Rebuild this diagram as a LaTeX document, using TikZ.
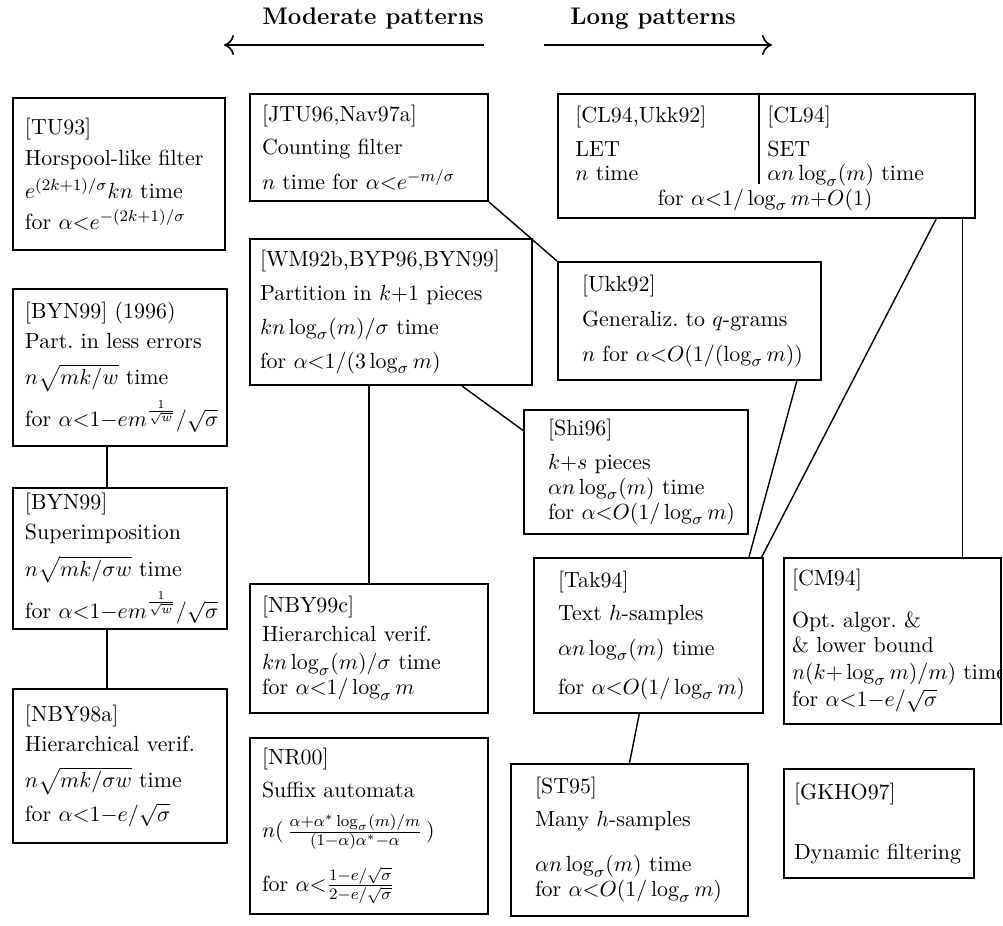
\documentclass[tikz,border=0pt,11pt]{standalone}
\usepackage{amsmath}
\usepackage{amssymb}
\usetikzlibrary{arrows.meta}
\usetikzlibrary{calc}
\tikzset{refbox/.style = {draw, line width = 1pt, anchor = north west, align = left,
                          inner xsep = 6pt, inner ysep = 0pt,
                          font = \fontsize{10.95}{12}\selectfont}}
\tikzset{reftext/.style = {align = left, inner sep = 0pt, font = \fontsize{10.95}{12}\selectfont}}
\tikzset{link/.style = {line width = 0.7pt}}
\tikzset{hdr/.style = {font = \large\bfseries}}
\tikzset{hdrarrow/.style = {-{Computer Modern Rightarrow[length=5pt, width=10pt]}, line width = 0.8pt}}

\begin{document}
\begin{tikzpicture}[x=0.5pt, y=-0.5pt]
      \useasboundingbox (0,0) rectangle (1003,926);

      % header
      \node [hdr] (moderate) at (373,19) {Moderate patterns};
      \node [hdr] (long) at (653,19) {Long patterns};
      \coordinate (modhead) at (224,45);
      \coordinate (modtail) at (484,45);
      \coordinate (longtail) at (544,45);
      \coordinate (longhead) at (772,45);
      \draw [hdrarrow] (modtail) -- (modhead);
      \draw [hdrarrow] (longtail) -- (longhead);

      % left column
      \node [refbox, text width = 94pt, minimum height = 76pt] (tu) at (12,97)
        {[TU93]\\[3.5pt] Horspool-like~filter\\[3.5pt] $e^{(2k+1)/\sigma}kn$~time\\[3.5pt]
         for~$\alpha{<}e^{-(2k+1)/\sigma}$};
      \node [refbox, text width = 95pt, minimum height = 78.5pt] (byna) at (12,288)
        {[BYN99] (1996)\\[3pt] Part.\ in~less~errors\\[6pt] $n\sqrt{mk/w}$~time\\[3.5pt]
         for~$\alpha{<}1{-}em^{\frac{1}{\sqrt{w}}}/\sqrt{\sigma}$};
      \node [refbox, text width = 95pt, minimum height = 70.5pt] (bynb) at (12,487)
        {[BYN99]\\[3pt] Superimposition\\[5pt] $n\sqrt{mk/\sigma w}$~time\\[3.5pt]
         for~$\alpha{<}1{-}em^{\frac{1}{\sqrt{w}}}/\sqrt{\sigma}$};
      \node [refbox, text width = 95pt, minimum height = 77pt] (nbya) at (12,688)
        {[NBY98a]\\[3pt] Hierarchical~verif.\\[6pt] $n\sqrt{mk/\sigma w}$~time\\[3.5pt]
         for~$\alpha{<}1{-}e/\sqrt{\sigma}$};

      % middle column
      \node [refbox, text width = 107pt, minimum height = 53.5pt] (jtu) at (249,93)
        {[JTU96,Nav97a]\\[4.5pt] Counting~filter\\[4.5pt] $n$~time~for~$\alpha{<}e^{-m/\sigma}$};
      \node [refbox, inner xsep = 5pt, text width = 131pt, minimum height = 73pt] (wm) at (249,238)
        {[WM92b,BYP96,BYN99]\\[5pt] Partition~in~$k{+}1$~pieces\\[5pt]
         $kn\log_\sigma(m)/\sigma$~time\\[5pt] for~$\alpha{<}1/(3\log_\sigma m)$};
      \node [refbox, text width = 107pt, minimum height = 64.5pt] (nbyc) at (249,583)
        {[NBY99c]\\[2.5pt] Hierarchical~verif.\\[2pt] $kn\log_\sigma(m)/\sigma$~time\\[0.5pt]
         for~$\alpha{<}1/\log_\sigma m$};
      \node [refbox, text width = 107pt, minimum height = 88pt] (nr) at (249,737)
        {[NR00]\\[4.5pt] Suffix~automata\\[8pt]
         $n(\,\frac{\alpha+\alpha^*\log_\sigma(m)/m}{(1-\alpha)\alpha^*-\alpha}\,)$\\[8pt]
         for~$\alpha{<}\frac{1-e/\sqrt{\sigma}}{2-e/\sqrt{\sigma}}$};

      % right part
      \node [refbox, minimum width = 208.5pt, minimum height = 62pt] (cl) at (557,93) {};
      \node [reftext, anchor = north west] (clet) at (575,106)
        {[CL94,Ukk92]\\[5pt] LET\\[0pt] $n$~time};
      \node [reftext, anchor = north west] (clset) at (767,106)
        {[CL94]\\[5pt] SET\\[0pt] $\alpha n\log_\sigma(m)$~time};
      \node [reftext, anchor = base] (clfor) at (765,205) {for~$\alpha{<}1/\log_\sigma m{+}O(1)$};
      \coordinate (cldiv) at (759,184);
      \draw [line width = 1pt] (cldiv |- cl.north) -- (cldiv);

      \node [refbox, inner xsep = 12pt, text width = 107.5pt, minimum height = 59pt] (ukk) at (557,261)
        {[Ukk92]\\[5.5pt] Generaliz.~to~$q$-grams\\[5.5pt] $n$~for~$\alpha{<}O(1/(\log_\sigma m))$};
      \node [refbox, inner xsep = 12pt, text width = 88pt, minimum height = 62pt] (shi) at (523,409)
        {[Shi96]\\[5pt] $k{+}s$~pieces\\[0.5pt] $\alpha n\log_\sigma(m)$~time\\[0.5pt]
         for~$\alpha{<}O(1/\log_\sigma m)$};
      \node [refbox, inner xsep = 12pt, text width = 90.5pt, minimum height = 77.5pt] (tak) at (533,557)
        {[Tak94]\\[4.5pt] Text~$h$-samples\\[5.5pt] $\alpha n\log_\sigma(m)$~time\\[7.5pt]
         for~$\alpha{<}O(1/\log_\sigma m)$};
      \node [refbox, inner xsep = 4pt, text width = 100.5pt, minimum height = 83pt] (cm) at (783,557)
        {[CM94]\\[9pt] Opt.~algor.~\&\\[0.5pt] \&~lower~bound\\[1.5pt]
         $n(k{+}\log_\sigma m)/m)$~time\\[1.5pt] for~$\alpha{<}1{-}e/\sqrt{\sigma}$};
      \node [refbox, inner xsep = 12pt, text width = 94.5pt, minimum height = 76pt] (st) at (510,763)
        {[ST95]\\[4.5pt] Many~$h$-samples\\[10.5pt] $\alpha n\log_\sigma(m)$~time\\[0.5pt]
         for~$\alpha{<}O(1/\log_\sigma m)$};
      \node [refbox, inner xsep = 5pt, text width = 85pt, minimum height = 54.5pt] (gk) at (783,768)
        {[GKHO97]\\[18pt] Dynamic~filtering};

      % links
      \draw [link] ($(byna.south west)!0.44!(byna.south east)$) -- ($(bynb.north west)!0.44!(bynb.north east)$);
      \draw [link] ($(bynb.south west)!0.44!(bynb.south east)$) -- ($(nbya.north west)!0.44!(nbya.north east)$);
      \draw [link] (jtu.south east) -- (ukk.north west);
      \draw [link] (nbyc.north |- wm.south) -- (nbyc.north);
      \draw [link] ($(wm.south west)!0.75!(wm.south east)$) -- ($(shi.north west)!0.17!(shi.south west)$);
      \draw [link] ($(ukk.south west)!0.905!(ukk.south east)$) -- ($(tak.north west)!0.935!(tak.north east)$);
      \draw [link] ($(cl.south west)!0.905!(cl.south east)$) -- ($(tak.north west)!0.99!(tak.north east)$);
      \coordinate (cmtop) at ($(cm.north west)!0.82!(cm.north east)$);
      \draw [link] (cmtop |- cl.south) -- (cmtop);
      \draw [link] ($(tak.south west)!0.46!(tak.south east)$) -- (st.north);
\end{tikzpicture}
\end{document}
